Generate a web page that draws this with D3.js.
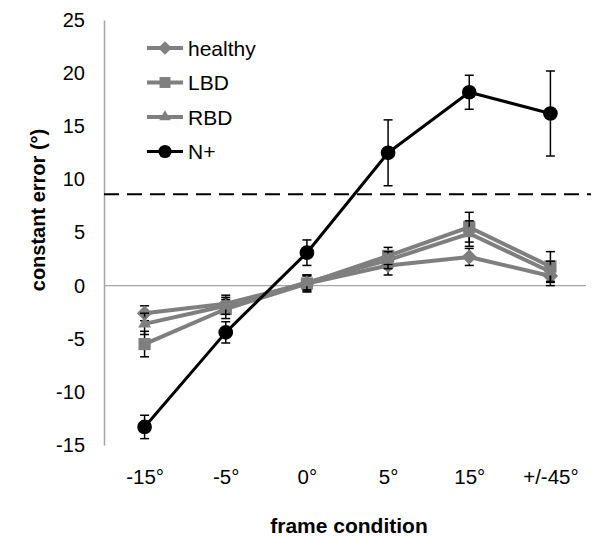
<!DOCTYPE html>
<html>
<head>
<meta charset="utf-8">
<script src="https://cdnjs.cloudflare.com/ajax/libs/d3/7.8.5/d3.min.js"></script>
<style>
  body { margin: 0; background: #fff; }
  text { font-family: "Liberation Sans", Arial, sans-serif; }
</style>
</head>
<body>
<div id="vis"></div>
<script>
const categories = ["-15°", "-5°", "0°", "5°", "15°", "+/-45°"];
const seriesNames = ["healthy", "LBD", "RBD", "N+"];
const healthy = [-2.6, -1.7, 0.2, 1.9, 2.7, 0.9];
const healthyErr = [0.7, 0.8, 0.7, 0.9, 0.8, 0.9];
const lbd = [-5.5, -2.2, 0.2, 2.8, 5.5, 1.8];
const lbdErr = [1.2, 0.9, 0.8, 0.8, 1.4, 1.4];
const rbd = [-3.6, -1.9, 0.3, 2.4, 4.9, 1.3];
const rbdErr = [1.0, 0.8, 0.7, 0.8, 1.2, 1.0];
const nplus = [-13.3, -4.4, 3.1, 12.5, 18.2, 16.2];
const nplusErr = [1.1, 1.0, 1.2, 3.1, 1.6, 4.0];
const threshold = 8.6;
const yTicks = [-15, -10, -5, 0, 5, 10, 15, 20, 25];

const width = 594;
const height = 536;
const margin = {left: 104, right: 3, top: 20, bottom: 91};

const series = [
  {name: seriesNames[0], values: healthy, err: healthyErr, color: "#7f7f7f", symbol: d3.symbolDiamond2, size: 150, lw: 4},
  {name: seriesNames[1], values: lbd, err: lbdErr, color: "#7f7f7f", symbol: d3.symbolSquare2, size: 190, lw: 4},
  {name: seriesNames[2], values: rbd, err: rbdErr, color: "#7f7f7f", symbol: d3.symbolTriangle2, size: 120, lw: 4},
  {name: seriesNames[3], values: nplus, err: nplusErr, color: "#000000", symbol: d3.symbolCircle, size: 170, lw: 3}
];

const svg = d3.select("#vis").append("svg")
  .attr("width", width)
  .attr("height", height);

const x = d3.scalePoint()
  .domain(categories)
  .range([margin.left, width - margin.right])
  .padding(0.5);

const y = d3.scaleLinear()
  .domain([-15, 25])
  .range([height - margin.bottom, margin.top]);

// y axis
const yAxis = d3.axisLeft(y)
  .tickValues(yTicks)
  .tickFormat(d => String(d))
  .tickSize(0)
  .tickPadding(19);

svg.append("g")
  .attr("transform", "translate(" + margin.left + ",0)")
  .call(yAxis)
  .call(g => g.select(".domain").attr("stroke", "#a6a6a6").attr("stroke-width", 1.5))
  .call(g => g.selectAll("text").attr("font-size", 20).attr("fill", "#000")
    .attr("font-family", "Liberation Sans, Arial, sans-serif"));

// zero line
svg.append("line")
  .attr("x1", margin.left).attr("x2", width - 8)
  .attr("y1", y(0)).attr("y2", y(0))
  .attr("stroke", "#a6a6a6").attr("stroke-width", 1.2);

// threshold dashed line
svg.append("line")
  .attr("x1", margin.left).attr("x2", width - 3)
  .attr("y1", y(threshold)).attr("y2", y(threshold))
  .attr("stroke", "#000").attr("stroke-width", 2)
  .attr("stroke-dasharray", "15,8");

// x axis labels
const xAxis = d3.axisBottom(x).tickSize(0).tickPadding(0);
svg.append("g")
  .attr("transform", "translate(0,469)")
  .call(xAxis)
  .call(g => g.select(".domain").remove())
  .call(g => g.selectAll("text").attr("font-size", 20.5).attr("fill", "#000")
    .attr("font-family", "Liberation Sans, Arial, sans-serif"));

// axis titles
svg.append("text")
  .attr("x", 349).attr("y", 533)
  .attr("text-anchor", "middle")
  .attr("font-size", 21)
  .attr("font-weight", "bold")
  .text("frame condition");

svg.append("text")
  .attr("transform", "translate(45,210) rotate(-90)")
  .attr("text-anchor", "middle")
  .attr("font-size", 20)
  .attr("font-weight", "bold")
  .text("constant error (°)");

const line = d3.line()
  .x((d, i) => x(categories[i]))
  .y(d => y(d));

series.forEach(s => {
  const g = svg.append("g").attr("class", "series");
  g.append("path")
    .attr("d", line(s.values))
    .attr("fill", "none")
    .attr("stroke", s.color)
    .attr("stroke-width", s.lw)
    .attr("stroke-linejoin", "round");

  // error bars
  s.values.forEach((v, i) => {
    const cx = x(categories[i]);
    const top = y(v + s.err[i]);
    const bot = y(v - s.err[i]);
    g.append("line").attr("x1", cx).attr("x2", cx).attr("y1", top).attr("y2", bot)
      .attr("stroke", "#000").attr("stroke-width", 1.5);
    [top, bot].forEach(yy => {
      g.append("line").attr("x1", cx - 4.5).attr("x2", cx + 4.5).attr("y1", yy).attr("y2", yy)
        .attr("stroke", "#000").attr("stroke-width", 1.5);
    });
  });

  g.selectAll("path.marker")
    .data(s.values)
    .join("path")
    .attr("class", "marker")
    .attr("transform", (d, i) => "translate(" + x(categories[i]) + "," + y(d) + ")")
    .attr("d", d3.symbol().type(s.symbol).size(s.size))
    .attr("fill", s.color);
});

// legend
const legend = svg.append("g").attr("transform", "translate(147,48)");
series.forEach((s, i) => {
  const row = legend.append("g").attr("transform", "translate(0," + (i * 34.5) + ")");
  row.append("line")
    .attr("x1", 0).attr("x2", 36)
    .attr("stroke", s.color).attr("stroke-width", s.lw);
  row.append("path")
    .attr("transform", "translate(18,0)")
    .attr("d", d3.symbol().type(s.symbol).size(s.size * 0.8))
    .attr("fill", s.color);
  row.append("text")
    .attr("x", 41).attr("y", 0).attr("dy", "0.36em")
    .attr("font-size", 21)
    .text(s.name);
});
</script>
</body>
</html>
